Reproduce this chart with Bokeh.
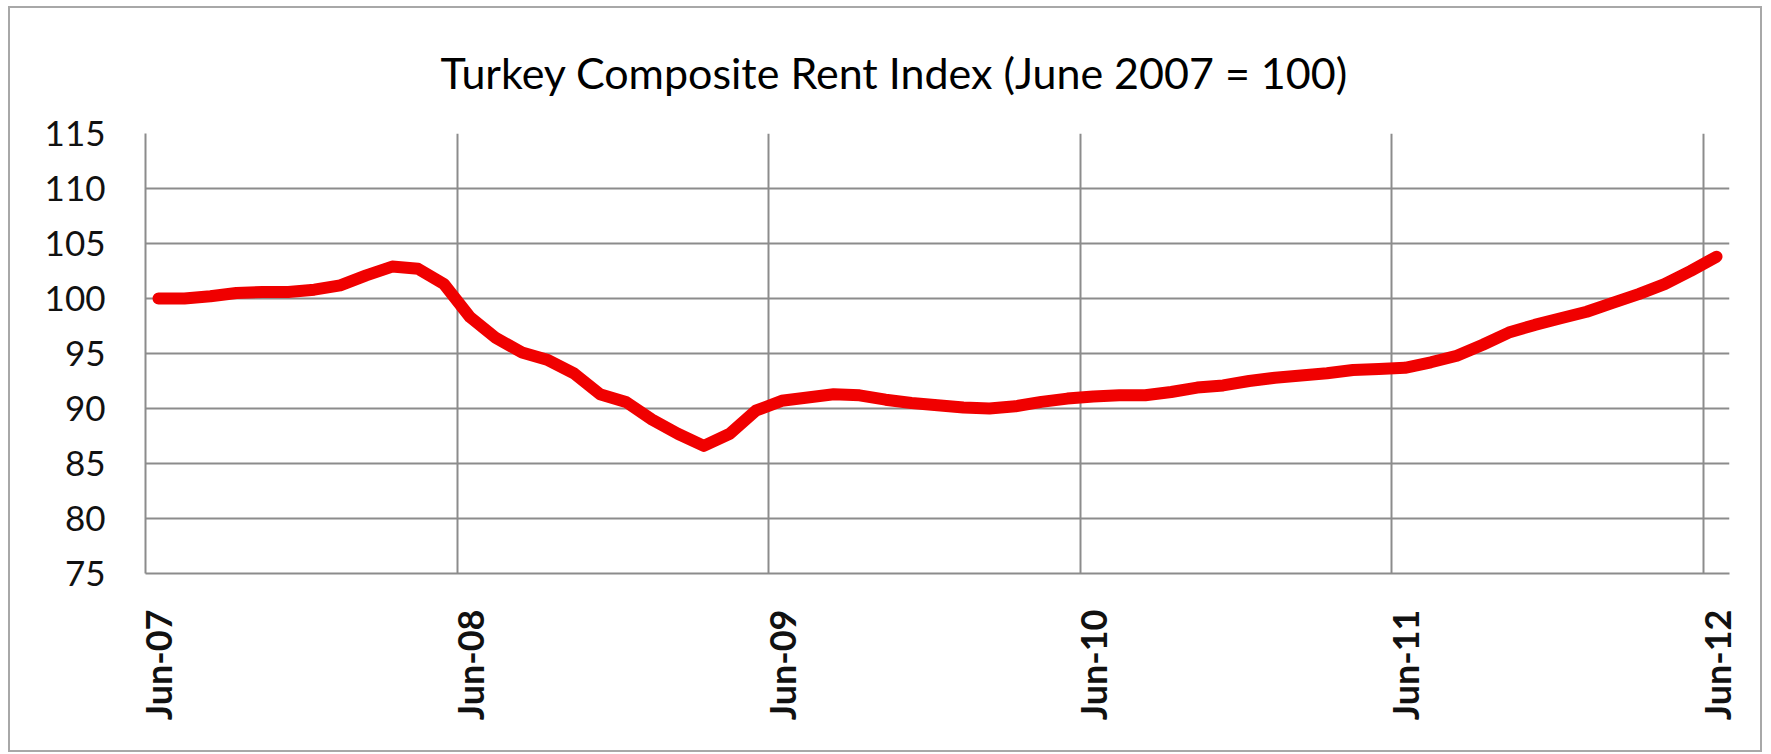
import math
from bokeh.plotting import figure
from bokeh.models import FixedTicker, Grid
from bokeh.embed import file_html
from bokeh.resources import INLINE

# Monthly index, Jun-2007 .. Jun-2012 (61 months)
months = list(range(61))
rent_index = [
    100.0, 100.0, 100.2, 100.5, 100.6, 100.6, 100.8, 101.2, 102.1, 102.9,
    102.7, 101.3, 98.3, 96.4, 95.1, 94.4, 93.2, 91.3, 90.6, 89.0,
    87.7, 86.6, 87.7, 89.8, 90.7, 91.0, 91.3, 91.2, 90.8, 90.5,
    90.3, 90.1, 90.0, 90.2, 90.6, 90.9, 91.1, 91.2, 91.2, 91.5,
    91.9, 92.1, 92.5, 92.8, 93.0, 93.2, 93.5, 93.6, 93.7, 94.2,
    94.8, 95.8, 96.9, 97.6, 98.2, 98.8, 99.6, 100.4, 101.3, 102.5,
    103.8,
]
tick_positions = [0, 12, 24, 36, 48, 60]
tick_labels = ["Jun-07", "Jun-08", "Jun-09", "Jun-10", "Jun-11", "Jun-12"]
grid_positions = [-0.5, 11.5, 23.5, 35.5, 47.5, 59.5]
y_ticks = [75, 80, 85, 90, 95, 100, 105, 110, 115]

GRID = "#8C8C8C"

p = figure(
    width=1754, height=746,
    x_range=(-0.5, 60.5), y_range=(75, 115),
    output_backend="svg", toolbar_location=None,
    title="Turkey Composite Rent Index (June 2007 = 100)",
    min_border_left=135, min_border_right=35,
    min_border_top=125, min_border_bottom=181,
    styles={"border": "2px solid #A8A8A8", "margin-left": "8px", "margin-top": "6px"},
)
p.outline_line_color = None
p.background_fill_color = "white"
p.border_fill_color = "white"

p.title.text_font = "Lato"
p.title.text_font_size = "43px"
p.title.text_font_style = "normal"
p.title.text_color = "#000000"
p.title.align = "left"
p.title.offset = 295
p.title.standoff = 72

# axes
p.xaxis.ticker = FixedTicker(ticks=tick_positions)
p.xaxis.major_label_overrides = {t: l for t, l in zip(tick_positions, tick_labels)}
p.xaxis.major_label_orientation = math.pi / 2
p.xaxis.major_label_text_font = "Lato"
p.xaxis.major_label_text_font_style = "bold"
p.xaxis.major_label_text_font_size = "36px"
p.xaxis.major_label_text_color = "#111111"
p.xaxis.major_label_standoff = 30
p.xaxis.axis_line_color = GRID
p.xaxis.axis_line_width = 2
p.xaxis.major_tick_line_color = None
p.xaxis.minor_tick_line_color = None

p.yaxis.ticker = FixedTicker(ticks=y_ticks)
p.yaxis.major_label_text_font = "Lato"
p.yaxis.major_label_text_font_size = "35px"
p.yaxis.major_label_text_color = "#111111"
p.yaxis.major_label_standoff = 34
p.yaxis.axis_line_color = GRID
p.yaxis.axis_line_width = 2
p.yaxis.major_tick_line_color = None
p.yaxis.minor_tick_line_color = None

# grids
p.xgrid.visible = False
p.add_layout(Grid(dimension=0, ticker=FixedTicker(ticks=grid_positions),
                  grid_line_color=GRID, grid_line_width=2))
p.ygrid.grid_line_color = GRID
p.ygrid.grid_line_width = 2

p.line(months, rent_index, line_color="#F00000", line_width=12,
       line_join="round", line_cap="round")

open("out.html", "w").write(file_html(p, INLINE))
